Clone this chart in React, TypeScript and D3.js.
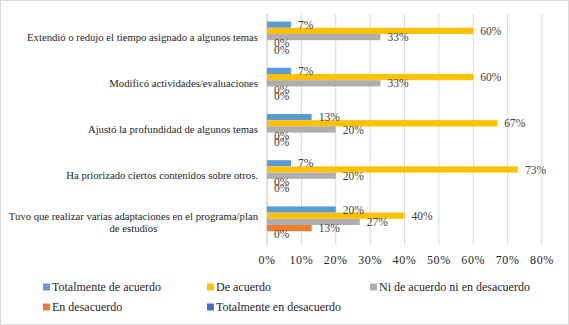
import React, { useEffect, useRef } from "react";
import * as d3 from "d3";

const categories = [
  "Extendió o redujo el tiempo asignado a algunos temas",
  "Modificó actividades/evaluaciones",
  "Ajustó la profundidad de algunos temas",
  "Ha priorizado ciertos contenidos sobre otros.",
  "Tuvo que realizar varias adaptaciones en el programa/plan de estudios",
];
const seriesNames = [
  "Totalmente de acuerdo",
  "De acuerdo",
  "Ni de acuerdo ni en desacuerdo",
  "En desacuerdo",
  "Totalmente en desacuerdo",
];
const totalmenteDeAcuerdo = [0.07, 0.07, 0.13, 0.07, 0.2];
const deAcuerdo = [0.6, 0.6, 0.67, 0.73, 0.4];
const niDeAcuerdo = [0.33, 0.33, 0.2, 0.2, 0.27];
const enDesacuerdo = [0, 0, 0, 0, 0.13];
const totalmenteEnDesacuerdo = [0, 0, 0, 0, 0];
const seriesValues = [totalmenteDeAcuerdo, deAcuerdo, niDeAcuerdo, enDesacuerdo, totalmenteEnDesacuerdo];
const xTicks = [0, 0.1, 0.2, 0.3, 0.4, 0.5, 0.6, 0.7, 0.8];
const colors = ["#5B9BD5", "#FFC000", "url(#grayPat)", "#ED7D31", "#4472C4"];

const W = 569, H = 325;
const FONT = "'Liberation Serif', 'DejaVu Serif', 'Liberation Sans', sans-serif";

export default function App() {
  const ref = useRef<SVGSVGElement>(null);
  useEffect(() => {
    const svg = d3.select(ref.current);
    svg.selectAll("*").remove();
    svg.style("font-family", FONT);

    const defs = svg.append("defs");
    const pat = defs.append("pattern").attr("id", "grayPat").attr("width", 2).attr("height", 2).attr("patternUnits", "userSpaceOnUse");
    pat.append("rect").attr("width", 2).attr("height", 2).attr("fill", "#A5A5A5");
    pat.append("rect").attr("width", 1).attr("height", 1).attr("fill", "#B8B8B8");
    pat.append("rect").attr("x", 1).attr("y", 1).attr("width", 1).attr("height", 1).attr("fill", "#B8B8B8");

    svg.append("rect").attr("x", 0.5).attr("y", 0.5).attr("width", W - 1).attr("height", H - 1)
      .attr("fill", "#fff").attr("stroke", "#D9D9D9");

    const x = d3.scaleLinear().domain([0, 0.8]).range([267, 542]);
    const y0 = d3.scaleBand<string>().domain(categories).range([14, 245]).padding(0);
    const y1 = d3.scaleBand<string>().domain(seriesNames).range([0, y0.bandwidth()]).paddingInner(0).paddingOuter(1.22);

    svg.append("g").selectAll("line").data(xTicks.slice(1)).join("line")
      .attr("x1", d => x(d)).attr("x2", d => x(d)).attr("y1", 14).attr("y2", 245)
      .attr("stroke", "#D9D9D9").attr("stroke-width", 1);
    svg.append("line").attr("x1", x(0)).attr("x2", x(0)).attr("y1", 14).attr("y2", 245)
      .attr("stroke", "#BFBFBF");

    const g = svg.append("g");
    categories.forEach((c, ci) => {
      seriesNames.forEach((s, si) => {
        const v = seriesValues[si][ci];
        const yy = y0(c)! + y1(s)!;
        g.append("rect").attr("x", x(0)).attr("y", yy).attr("width", x(v) - x(0)).attr("height", y1.bandwidth())
          .attr("fill", colors[si]);
      });
    });
    categories.forEach((c, ci) => {
      seriesNames.forEach((s, si) => {
        const v = seriesValues[si][ci];
        const yy = y0(c)! + y1(s)! + y1.bandwidth() / 2;
        g.append("text").attr("x", x(v) + 7).attr("y", yy).attr("dy", "0.35em")
          .attr("font-size", 11.5).attr("fill", "#404040")
          .text(Math.round(v * 100) + "%");
      });
    });

    const maxW = 250;
    categories.forEach((c) => {
      const t = svg.append("text").attr("font-size", 10.7).attr("fill", "#262626")
        .attr("text-anchor", "middle");
      const words = c.split(" ");
      const lines: string[] = [];
      let cur = "";
      const probe = t.append("tspan");
      words.forEach(w => {
        const test = cur ? cur + " " + w : w;
        probe.text(test);
        if ((probe.node() as SVGTSpanElement).getComputedTextLength() > maxW && cur) {
          lines.push(cur);
          cur = w;
        } else cur = test;
      });
      lines.push(cur);
      probe.remove();
      const widths = lines.map(l => {
        const p = t.append("tspan").text(l);
        const wv = (p.node() as SVGTSpanElement).getComputedTextLength();
        p.remove();
        return wv;
      });
      const maxLine = Math.max(...widths);
      const cx = 258 - maxLine / 2;
      const cy = y0(c)! + y0.bandwidth() / 2;
      const lh = 12;
      lines.forEach((l, i) => {
        t.append("tspan").attr("x", cx).attr("y", cy + (i - (lines.length - 1) / 2) * lh).attr("dy", "0.35em").text(l);
      });
    });

    svg.append("g").selectAll("text").data(xTicks).join("text")
      .attr("x", d => x(d)).attr("y", 260).attr("dy", "0.35em").attr("text-anchor", "middle")
      .attr("font-size", 12).attr("letter-spacing", 0.6).attr("fill", "#262626")
      .text(d => Math.round(d * 100) + "%");

    const legPos = [[43, 287], [207, 287], [370, 287], [43, 307], [207, 307]];
    seriesNames.forEach((s, i) => {
      const [lx, ly] = legPos[i];
      svg.append("rect").attr("x", lx).attr("y", ly - 3.5).attr("width", 7).attr("height", 7).attr("fill", colors[i]);
      svg.append("text").attr("x", lx + 9).attr("y", ly).attr("dy", "0.35em")
        .attr("font-size", 12).attr("fill", "#262626").text(s);
    });
  }, []);
  return (
    <div style={{ position: "absolute", left: 0, top: 0 }}>
      <svg ref={ref} width={W} height={H} style={{ display: "block" }} />
    </div>
  );
}
